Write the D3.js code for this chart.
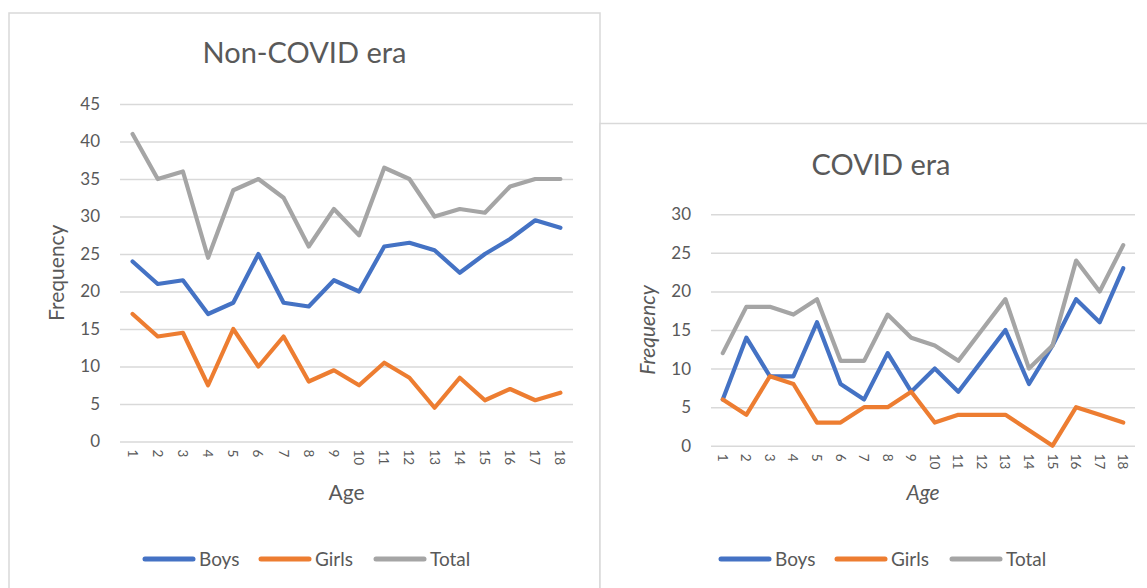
<!DOCTYPE html>
<html>
<head>
<meta charset="utf-8">
<script src="https://cdn.jsdelivr.net/npm/d3@7"></script>
<style>
  html, body { margin: 0; padding: 0; background: #fff; }
  svg { display: block; font-family: Lato, "Open Sans", sans-serif; }
</style>
</head>
<body>
<svg id="chart" width="1147" height="588"></svg>
<script>
const ages = [1,2,3,4,5,6,7,8,9,10,11,12,13,14,15,16,17,18];
const seriesNames = ["Boys", "Girls", "Total"];
const seriesColors = ["#4472C4", "#ED7D31", "#A5A5A5"];

const nonCovidBoys  = [24, 21, 21.5, 17, 18.5, 25, 18.5, 18, 21.5, 20, 26, 26.5, 25.5, 22.5, 25, 27, 29.5, 28.5];
const nonCovidGirls = [17, 14, 14.5, 7.5, 15, 10, 14, 8, 9.5, 7.5, 10.5, 8.5, 4.5, 8.5, 5.5, 7, 5.5, 6.5];
const nonCovidTotal = [41, 35, 36, 24.5, 33.5, 35, 32.5, 26, 31, 27.5, 36.5, 35, 30, 31, 30.5, 34, 35, 35];
const nonCovidTicks = [0, 5, 10, 15, 20, 25, 30, 35, 40, 45];

const covidBoys  = [6, 14, 9, 9, 16, 8, 6, 12, 7, 10, 7, 11, 15, 8, 13, 19, 16, 23];
const covidGirls = [6, 4, 9, 8, 3, 3, 5, 5, 7, 3, 4, 4, 4, 2, 0, 5, 4, 3];
const covidTotal = [12, 18, 18, 17, 19, 11, 11, 17, 14, 13, 11, 15, 19, 10, 13, 24, 20, 26];
const covidTicks = [0, 5, 10, 15, 20, 25, 30];

const svg = d3.select("#chart");
const textColor = "#595959";
const gridColor = "#D9D9D9";

function drawPanel(p) {
  const g = svg.append("g");
  // panel border
  g.append("rect")
    .attr("x", p.box[0]).attr("y", p.box[1])
    .attr("width", p.box[2]).attr("height", p.box[3])
    .attr("fill", "#fff").attr("stroke", gridColor).attr("stroke-width", 1.5);

  const x = d3.scaleBand().domain(ages).range([p.plot[0], p.plot[1]]);
  const y = d3.scaleLinear().domain([0, d3.max(p.ticks)]).range([p.plot[3], p.plot[2]]);

  // title
  g.append("text")
    .attr("x", (p.plot[0] + p.plot[1]) / 2 + p.titleDx).attr("y", p.titleY)
    .attr("text-anchor", "middle").attr("fill", textColor)
    .attr("font-size", 29).text(p.title);

  // y axis grid + labels
  const yAxis = d3.axisLeft(y).tickValues(p.ticks).tickSize(-(p.plot[1] - p.plot[0])).tickPadding(20);
  const ya = g.append("g").attr("transform", `translate(${p.plot[0]},0)`).call(yAxis);
  ya.select(".domain").remove();
  ya.selectAll(".tick line").attr("stroke", gridColor).attr("stroke-width", 1.5);
  ya.selectAll(".tick text").attr("fill", textColor).attr("font-size", 17)
    .attr("font-family", "Lato, 'Open Sans', sans-serif");

  // x axis labels (rotated)
  const xAxis = d3.axisBottom(x).tickSize(0).tickPadding(0);
  const xa = g.append("g").attr("transform", `translate(0,${p.plot[3]})`).call(xAxis);
  xa.select(".domain").remove();
  xa.selectAll(".tick text")
    .attr("fill", textColor).attr("font-size", 13.5)
    .attr("font-family", "Lato, 'Open Sans', sans-serif")
    .attr("transform", null)
    .attr("y", 0).attr("dy", null)
    .attr("text-anchor", "start")
    .attr("dominant-baseline", "central")
    .attr("transform", `translate(0,${p.xLabelOffset}) rotate(90)`);

  // axis titles
  g.append("text")
    .attr("transform", `translate(${p.yTitleX},${(p.plot[2] + p.plot[3]) / 2}) rotate(-90)`)
    .attr("text-anchor", "middle").attr("fill", textColor)
    .attr("font-size", 21).attr("font-style", p.italic ? "italic" : "normal")
    .text("Frequency");
  g.append("text")
    .attr("x", (p.plot[0] + p.plot[1]) / 2).attr("y", 500)
    .attr("text-anchor", "middle").attr("fill", textColor)
    .attr("font-size", 21).attr("font-style", p.italic ? "italic" : "normal")
    .text("Age");

  // lines
  const line = d3.line().x((d, i) => x(ages[i]) + x.bandwidth() / 2).y(d => y(d));
  p.series.forEach((s, k) => {
    g.append("path").datum(s)
      .attr("d", line).attr("fill", "none")
      .attr("stroke", seriesColors[k]).attr("stroke-width", 4.2)
      .attr("stroke-linejoin", "round").attr("stroke-linecap", "round");
  });

  // legend
  const lg = g.append("g");
  seriesNames.forEach((name, k) => {
    const lx = p.legendX[k];
    lg.append("line")
      .attr("x1", lx).attr("x2", lx + 48).attr("y1", 559).attr("y2", 559)
      .attr("stroke", seriesColors[k]).attr("stroke-width", 5).attr("stroke-linecap", "round");
    lg.append("text")
      .attr("x", lx + 54).attr("y", 559).attr("dy", "0.35em")
      .attr("fill", textColor).attr("font-size", 19).text(name);
  });
}

drawPanel({
  box: [9, 13, 591, 590],
  plot: [120, 573, 104, 441.5],
  ticks: nonCovidTicks,
  series: [nonCovidBoys, nonCovidGirls, nonCovidTotal],
  title: "Non-COVID era", titleY: 63, titleDx: -42,
  yTitleX: 64, italic: false, xLabelOffset: 8,
  legendX: [145, 261, 376]
});

drawPanel({
  box: [600, 123.5, 560, 480],
  plot: [711, 1135, 214.3, 445.7],
  ticks: covidTicks,
  series: [covidBoys, covidGirls, covidTotal],
  title: "COVID era", titleY: 175, titleDx: -42,
  yTitleX: 655, italic: true, xLabelOffset: 8,
  legendX: [721, 837, 952]
});
</script>
</body>
</html>
